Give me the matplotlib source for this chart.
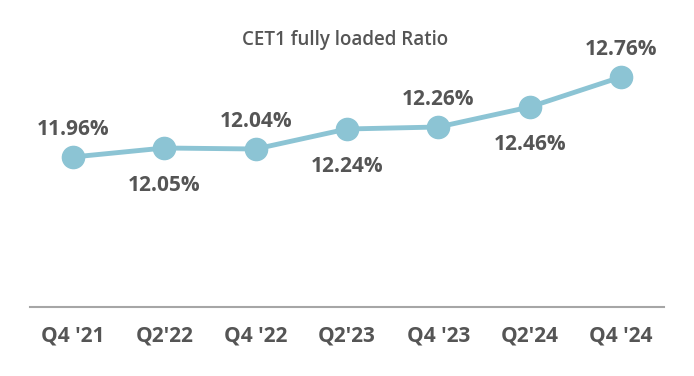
import matplotlib
matplotlib.use("Agg")
import matplotlib.pyplot as plt

# data
quarters = ["Q4 '21", "Q2'22", "Q4 '22", "Q2'23", "Q4 '23", "Q2'24", "Q4 '24"]
cet1 = [11.96, 12.05, 12.04, 12.24, 12.26, 12.46, 12.76]
label_above = [True, False, True, False, True, False, True]

line_color = "#8cc4d4"
text_color = "#555555"

plt.rcParams["font.family"] = ["Open Sans", "DejaVu Sans"]

fig = plt.figure(figsize=(6.94, 3.76), dpi=100)
ax = fig.add_axes([30 / 694, 1 - 307 / 376, 634 / 694, 307 / 376])

x = list(range(len(quarters)))
ax.plot(x, cet1, color=line_color, lw=3.5, marker="o", ms=16, zorder=3)

# labels alternate above / below the points
for xi, v, up in zip(x, cet1, label_above):
    off = 19.5 if up else -27
    ax.annotate(f"{v:.2f}%", (xi, v), xytext=(0, off), textcoords="offset points",
                ha="center", va="center", fontsize=15, fontweight="bold",
                color=text_color)

ax.set_xlim(-0.47, 6.47)
ax.set_ylim(10.46, 13.53)
ax.set_xticks(x)
ax.set_xticklabels(quarters, fontsize=15, fontweight="bold", color=text_color)
ax.tick_params(axis="x", length=0, pad=13)
ax.set_yticks([])
for s in ["top", "left", "right"]:
    ax.spines[s].set_visible(False)
ax.spines["bottom"].set_color("#a6a6a6")
ax.spines["bottom"].set_linewidth(1.5)

fig.text(345 / 694, 1 - 40 / 376, "CET1 fully loaded Ratio", ha="center", va="center",
         fontsize=13.5, fontweight="semibold", color=text_color)

fig.savefig("out.png", dpi=100)
